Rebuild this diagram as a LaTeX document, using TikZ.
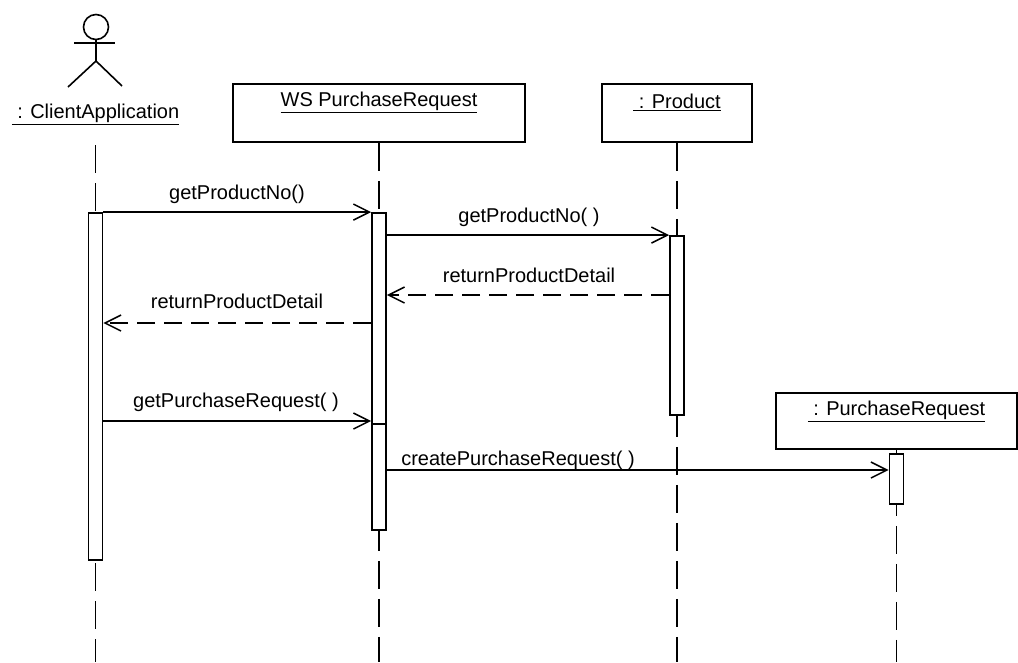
\documentclass[tikz,border=0pt]{standalone}
\usepackage{fontspec}
\setmainfont{Liberation Sans}
\usepackage{tikz}
\usetikzlibrary{arrows.meta}

\begin{document}
\begin{tikzpicture}[x=1pt,y=-1pt,
 font=\fontsize{20}{24}\selectfont,
 >={Straight Barb[length=16pt,width=16pt]},
 objbox/.style={draw,line width=1.9pt,minimum width=#1,minimum height=58pt,inner sep=0pt},
 objname/.style={inner sep=0pt},
 bar/.style={draw,fill=white,line width=1.8pt,minimum width=14pt,minimum height=#1,inner sep=0pt},
 lifeline/.style={line width=1.9pt,dash pattern=on 28pt off 10pt},
 call/.style={->,line width=1.5pt},
 reply/.style={->,line width=1.5pt,dash pattern=on 18pt off 9pt},
 msglbl/.style={inner sep=0pt}]
 \useasboundingbox (0,0) rectangle (1018,662);
 \coordinate (bottom) at (0,662);
 % actor
 \draw[line width=1.6pt] (96,27) circle[radius=12.5pt];
 \draw[line width=1.6pt] (74,43) -- (115,43);
 \draw[line width=1.6pt] (96,39.5) -- (96,61);
 \draw[line width=1.6pt] (68,87) -- (96,61) -- (122,86);
 \node[objname] (caname) at (95.5,114) {\underline{\ : ClientApplication}};
 % objects
 \node[objbox=292pt] (ws) at (379,113) {};
 \node[objname] (wsname) at (379,102) {\underline{WS PurchaseRequest}};
 \node[objbox=150pt] (pr) at (677,113) {};
 \node[objname] (prname) at (677,102) {\underline{\ : Product}};
 \node[objbox=241pt,minimum height=56pt] (preq) at (896.5,421) {};
 \node[objname] (preqname) at (896.5,411) {\underline{\ : PurchaseRequest}};
 % lifelines
 \draw[lifeline] (caname.south |- 0,145) -- (caname.south |- bottom);
 \draw[lifeline] (ws.south) -- (ws.south |- bottom);
 \draw[lifeline] (pr.south) -- (pr.south |- bottom);
 \draw[lifeline] (preq.south) -- (preq.south |- bottom);
 % activations
 \node[bar=347pt] (caBar) at (95.5,386.5) {};
 \node[bar=317pt] (wsBar) at (379,371.5) {};
 \node[bar=106pt] (wsBar2) at (379,477) {};
 \node[bar=179pt] (prBar) at (677,325.5) {};
 \node[bar=50pt] (preqBar) at (896.5,479) {};
 % messages
 \coordinate (r1) at (0,295);
 \coordinate (r2) at (0,323);
 \coordinate (c3) at (0,421);
 \coordinate (c4) at (0,470);
 \draw[call] (caBar.north east) -- (wsBar.north west);
 \draw[call] (wsBar.east |- prBar.north) -- (prBar.north west);
 \draw[reply] (prBar.west |- r1) -- (wsBar.east |- r1);
 \draw[reply] (wsBar.west |- r2) -- (caBar.east |- r2);
 \draw[call] (caBar.east |- c3) -- (wsBar.west |- c3);
 \draw[call] (wsBar2.east |- c4) -- (preqBar.west |- c4);
 \node[msglbl] (m1) at (237,194) {getProductNo()};
 \node[msglbl] (m2) at (529,217) {getProductNo( )};
 \node[msglbl] (m3) at (529,275) {returnProductDetail};
 \node[msglbl] (m4) at (237,301) {returnProductDetail};
 \node[msglbl] (m5) at (236,402) {getPurchaseRequest( )};
 \node[msglbl] (m6) at (518,460) {createPurchaseRequest( )};
\end{tikzpicture}
\end{document}
